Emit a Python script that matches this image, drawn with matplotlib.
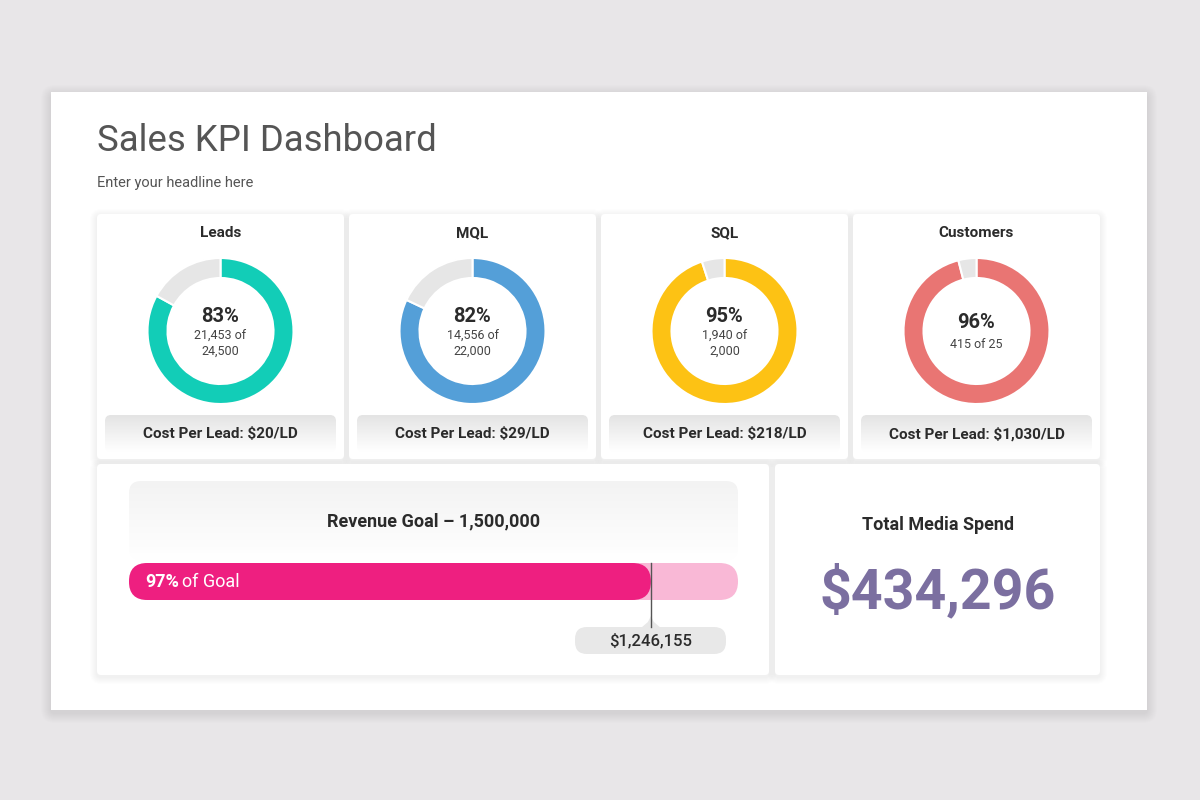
import numpy as np
import matplotlib
matplotlib.use("Agg")
import matplotlib.pyplot as plt
from matplotlib.patches import FancyBboxPatch, Rectangle, Polygon
from matplotlib.colors import LinearSegmentedColormap

plt.rcParams["font.family"] = ["Roboto", "DejaVu Sans"]

# data
kpi_names = ["Leads", "MQL", "SQL", "Customers"]
kpi_pct = [83, 82, 95, 96]
kpi_detail = ["21,453 of\n24,500", "14,556 of\n22,000", "1,940 of\n2,000", "415 of 25"]
kpi_cost = ["$20/LD", "$29/LD", "$218/LD", "$1,030/LD"]
kpi_colors = ["#12cdb7", "#549fd8", "#fdc214", "#e97573"]

revenue_goal = 1500000
revenue_actual = 1246155
goal_pct = 97
revenue_fill = 0.857  # share of the track that is filled, as drawn
media_spend = 434296

W, H = 1200, 800
fig = plt.figure(figsize=(12, 8), dpi=100)
fig.patch.set_facecolor("#e8e6e8")
ax = fig.add_axes([0, 0, 1, 1])
ax.set_xlim(0, W)
ax.set_ylim(H, 0)
ax.axis("off")


def box(x0, y0, x1, y1, color, r=4, z=1, **kw):
    p = FancyBboxPatch((x0 + r, y0 + r), x1 - x0 - 2 * r, y1 - y0 - 2 * r,
                       boxstyle=f"round,pad={r}", fc=color, ec="none",
                       zorder=z, **kw)
    ax.add_patch(p)
    return p


def shadow(x0, y0, x1, y1, spread=10, z=0.5, alpha=0.012, dy=3):
    for k in range(spread, 0, -1):
        box(x0 - k, y0 - k + dy, x1 + k, y1 + k + dy, "black",
            r=4 + k, z=z, alpha=alpha)


def gradient(patch, x0, y0, x1, y1, top, bottom, z):
    cmap = LinearSegmentedColormap.from_list("g", [top, bottom])
    grad = np.linspace(0, 1, 128).reshape(-1, 1)
    im = ax.imshow(grad, cmap=cmap, extent=(x0, x1, y1, y0), aspect="auto",
                   origin="upper", zorder=z, interpolation="bilinear")
    im.set_clip_path(patch)


# slide
shadow(51, 92, 1147, 710, spread=10, alpha=0.006, dy=3)
ax.add_patch(Rectangle((51, 92), 1096, 618, fc="white", ec="none", zorder=1))

ax.text(97, 141, "Sales KPI Dashboard", fontsize=26.3, color="#555555",
        va="center", ha="left", zorder=5)
ax.text(97, 183, "Enter your headline here", fontsize=10.5, color="#555555",
        va="center", ha="left", zorder=5)

# KPI cards
card_x = [97, 349, 601, 853]
card_w = 247
for i, name in enumerate(kpi_names):
    x0 = card_x[i]
    x1 = x0 + card_w
    cx = (x0 + x1) / 2
    shadow(x0, 214, x1, 459, spread=7, z=1.5, alpha=0.006, dy=2)
    box(x0, 214, x1, 459, "white", r=4, z=2)
    ax.text(cx, 233, name, fontsize=11, fontweight="bold", color="#2b2b2b",
            ha="center", va="center", zorder=5)

    # donut
    dax = fig.add_axes([(cx - 75) / W, 1 - (331 + 75) / H, 150 / W, 150 / H])
    dax.pie([kpi_pct[i], 100 - kpi_pct[i]], colors=[kpi_colors[i], "#e6e6e6"],
            startangle=90, counterclock=False, radius=73 / 75,
            wedgeprops=dict(width=20 / 75, edgecolor="white", linewidth=1.5))
    dax.set_xlim(-1, 1)
    dax.set_ylim(-1, 1)
    dax.axis("off")

    two_lines = "\n" in kpi_detail[i]
    pct_y = 316 if two_lines else 323
    ax.text(cx, pct_y, f"{kpi_pct[i]}%", fontsize=14.5, fontweight="bold",
            color="#2b2b2b", ha="center", va="center", zorder=5)
    ax.text(cx, 344, kpi_detail[i], fontsize=9, color="#444444",
            ha="center", va="center", linespacing=1.15, zorder=5)

    # footer band
    fb = box(x0 + 8, 415, x1 - 8, 452, "none", r=6, z=3)
    gradient(fb, x0 + 8, 415, x1 - 8, 452, "#e4e4e4", "#ffffff", 3)
    ax.text(cx, 434, f"Cost Per Lead: {kpi_cost[i]}", fontsize=11,
            fontweight="bold", color="#2b2b2b", ha="center", va="center",
            zorder=5)

# revenue card
shadow(97, 464, 769, 675, spread=7, z=1.5, alpha=0.006, dy=2)
box(97, 464, 769, 675, "white", r=4, z=2)
rp = box(129, 481, 738, 560, "none", r=12, z=3)
gradient(rp, 129, 481, 738, 560, "#f3f3f3", "#ffffff", 3)
ax.text(433.5, 521, f"Revenue Goal \u2013 {revenue_goal:,}", fontsize=13,
        fontweight="bold", color="#2b2b2b", ha="center", va="center", zorder=5)

bx0, bx1, by0, by1 = 129, 738, 563, 600
box(bx0, by0, bx1, by1, "#f9b8d6", r=18.5, z=4)
fill_x = bx0 + revenue_fill * (bx1 - bx0)
box(bx0, by0, fill_x, by1, "#ee1f80", r=18.5, z=4.5)
pct_txt = ax.text(145, 582, f"{goal_pct}%", fontsize=13, fontweight="bold",
                  color="white", ha="left", va="center", zorder=6)
renderer = fig.canvas.get_renderer()
ext = pct_txt.get_window_extent(renderer=renderer)
ax.text(145 + ext.width + 3, 582, "of Goal", fontsize=13, color="white",
        ha="left", va="center", zorder=6)
ax.plot([fill_x, fill_x], [by0, 627], color="#555555", lw=1, zorder=6)

box(575, 627, 726, 654, "#e8e8e8", r=12, z=4)
ax.add_patch(Polygon([[fill_x - 10, 628], [fill_x - 3, 622], [fill_x, 616],
                      [fill_x + 3, 622], [fill_x + 10, 628]],
                     closed=True, fc="#e8e8e8", ec="none", zorder=4))
ax.text(650.5, 641, f"${revenue_actual:,}", fontsize=12, fontweight="medium",
        color="#2b2b2b", ha="center", va="center", zorder=6)

# media spend card
shadow(775, 464, 1100, 675, spread=7, z=1.5, alpha=0.006, dy=2)
box(775, 464, 1100, 675, "white", r=4, z=2)
ax.text(937.5, 525, "Total Media Spend", fontsize=13, fontweight="bold",
        color="#2b2b2b", ha="center", va="center", zorder=5)
ax.text(937.5, 592, f"${media_spend:,}", fontsize=40, fontweight="bold",
        color="#7b6fa0", ha="center", va="center", zorder=5)

fig.savefig("out.png", dpi=100, facecolor=fig.get_facecolor())
